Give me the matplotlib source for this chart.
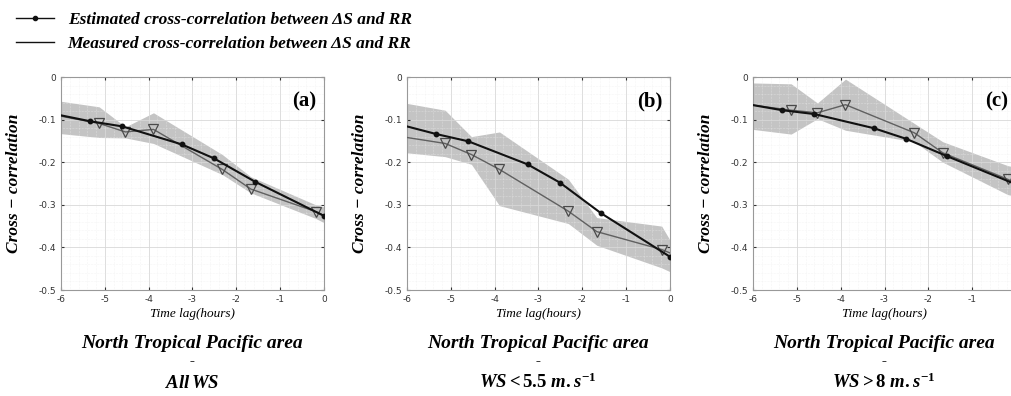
import numpy as np
import matplotlib
matplotlib.use("Agg")
import matplotlib.pyplot as plt
from matplotlib.lines import Line2D
from matplotlib.ticker import MultipleLocator

plt.rcParams["axes.unicode_minus"] = False
plt.rcParams["mathtext.fontset"] = "custom"
plt.rcParams["mathtext.it"] = "Liberation Serif:italic:bold"
plt.rcParams["mathtext.rm"] = "Liberation Serif:bold"

# ---- data ----
panel_tags = ["(a)", "(b)", "(c)"]
panel_cases = [r"$All\,WS$",
               r"$WS < 5.5\ m.s^{-1}$",
               r"$WS > 8\ m.s^{-1}$"]

x_ticks = [-6, -5, -4, -3, -2, -1, 0]
y_ticks = [-0.5, -0.4, -0.3, -0.2, -0.1, 0]
y_tick_labels = ["-0.5", "-0.4", "-0.3", "-0.2", "-0.1", "0"]

# estimated cross-correlation (black line with dots)
est_x = [-6, -5.33, -4.6, -3.25, -2.51, -1.57, 0]
est_a = [-0.090, -0.104, -0.116, -0.158, -0.191, -0.246, -0.326]
est_b = [-0.116, -0.134, -0.151, -0.205, -0.248, -0.320, -0.422]
est_c = [-0.066, -0.078, -0.087, -0.120, -0.145, -0.186, -0.252]

# measured cross-correlation (grey line with triangles) and its band
meas_x = [-6, -5.13, -4.53, -3.89, -2.32, -1.67, -0.19, 0]
meas_a = [-0.092, -0.109, -0.129, -0.123, -0.217, -0.263, -0.316, -0.325]
meas_b = [-0.142, -0.156, -0.182, -0.217, -0.315, -0.363, -0.405, -0.413]
meas_c = [-0.066, -0.078, -0.084, -0.065, -0.131, -0.178, -0.240, -0.250]

band_hi_a = [-0.057, -0.070, -0.117, -0.084, -0.182, -0.234, -0.300, -0.305]
band_lo_a = [-0.133, -0.142, -0.143, -0.156, -0.229, -0.272, -0.332, -0.342]
band_hi_b = [-0.062, -0.078, -0.140, -0.129, -0.240, -0.330, -0.350, -0.383]
band_lo_b = [-0.178, -0.187, -0.205, -0.302, -0.344, -0.395, -0.448, -0.457]
band_hi_c = [-0.014, -0.016, -0.061, -0.005, -0.109, -0.152, -0.208, -0.212]
band_lo_c = [-0.123, -0.134, -0.098, -0.125, -0.152, -0.200, -0.276, -0.280]

est = [est_a, est_b, est_c]
meas = [meas_a, meas_b, meas_c]
band_hi = [band_hi_a, band_hi_b, band_hi_c]
band_lo = [band_lo_a, band_lo_b, band_lo_c]

W, H = 1012, 396
fig = plt.figure(figsize=(W / 100, H / 100), dpi=100)

lefts = [61, 407, 753]
serif_bi = dict(family="Liberation Serif", weight="bold", style="italic")

for i in range(3):
    ax = fig.add_axes([lefts[i] / W, 1 - 290 / H, 263 / W, 213 / H])
    ax.fill_between(meas_x, band_lo[i], band_hi[i], color="#c4c4c4", lw=0, zorder=1)
    ax.plot(meas_x, meas[i], color="#606060", lw=1.0, marker="v", ms=7,
            mfc="none", mec="#4a4a4a", mew=0.9, markevery=range(1, 7), zorder=3)
    ax.plot(est_x, est[i], color="#111111", lw=1.5, marker="o", ms=3.2,
            markevery=range(1, 7), zorder=4)
    ax.set_xlim(-6, 0)
    ax.set_ylim(-0.5, 0)
    ax.set_xticks(x_ticks)
    # the last panel runs past the right edge of the figure, its "0" is not shown
    xlabels = [str(v) for v in x_ticks]
    if i == 2:
        xlabels[-1] = ""
    ax.set_xticklabels(xlabels)
    ax.set_yticks(y_ticks)
    ax.set_yticklabels(y_tick_labels)
    ax.xaxis.set_minor_locator(MultipleLocator(0.2))
    ax.yaxis.set_minor_locator(MultipleLocator(0.02))
    ax.grid(which="major", color="#d8d8d8", lw=0.6)
    ax.grid(which="minor", color="#ececec", lw=0.4, ls=":")
    ax.tick_params(which="both", direction="in", labelsize=6.5, colors="#333333",
                   length=2, top=True, right=True)
    ax.tick_params(which="minor", length=0)
    for s in ax.spines.values():
        s.set_color("#999999")
        s.set_linewidth(0.8)
    ax.set_ylabel("Cross − correlation", fontsize=12.5, **serif_bi)
    ax.yaxis.set_label_coords(-0.15, 0.5)
    ax.set_xlabel("Time lag(hours)", fontsize=9.5, family="Liberation Serif",
                  style="italic", labelpad=3)
    ax.text(0.97, 0.93, panel_tags[i], transform=ax.transAxes, ha="right",
            va="top", fontsize=15, weight="bold", family="Liberation Serif")

    cx = (lefts[i] + 131) / W
    fig.text(cx, 1 - 343 / H, "North Tropical Pacific area", ha="center",
             va="center", fontsize=14, **serif_bi)
    fig.text(cx, 1 - 362 / H, "-", ha="center", va="center", fontsize=11, **serif_bi)
    fig.text(cx, 1 - 382 / H, panel_cases[i], ha="center", va="center", fontsize=13.5)

handles = [Line2D([], [], color="#111111", lw=1.0, marker="o", ms=3),
           Line2D([], [], color="#111111", lw=1.0)]
fig.legend(handles, ["Estimated cross-correlation between ΔS and RR",
                     "Measured cross-correlation between ΔS and RR"],
           loc="upper left", bbox_to_anchor=(0.0, 1.01), frameon=False,
           prop=dict(family="Liberation Serif", weight="bold", style="italic", size=12.5),
           handlelength=2.2, labelspacing=0.45)

fig.savefig("out.png", dpi=100, facecolor="white")
